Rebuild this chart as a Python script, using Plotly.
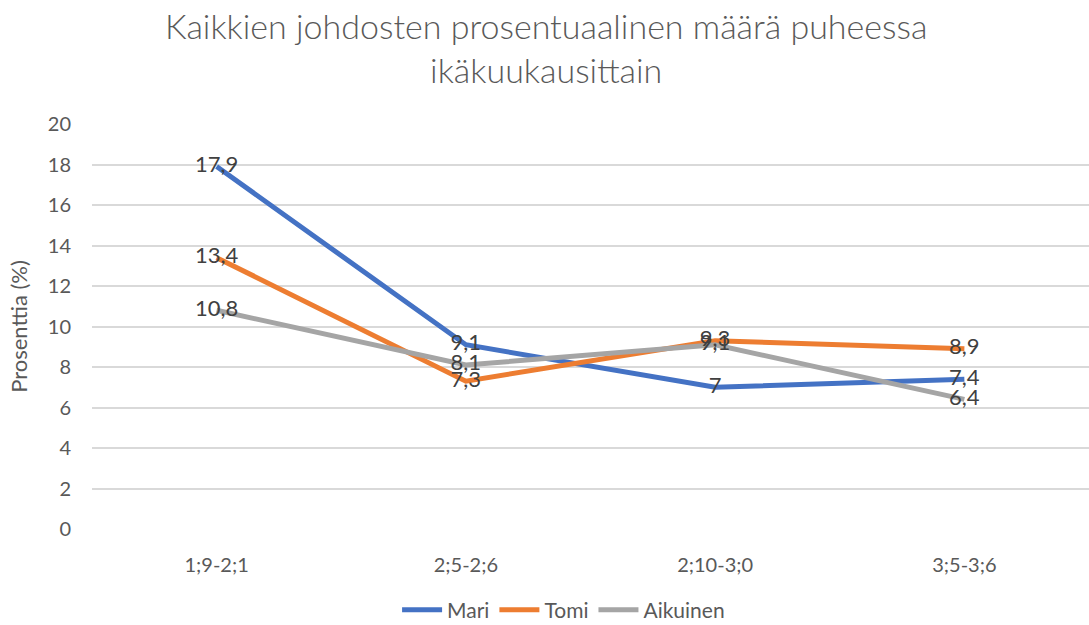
import plotly.graph_objects as go

ikakaudet = ['1;9-2;1', '2;5-2;6', '2;10-3;0', '3;5-3;6']
mari = [17.9, 9.1, 7.0, 7.4]
tomi = [13.4, 7.3, 9.3, 8.9]
aikuinen = [10.8, 8.1, 9.1, 6.4]

sarjat = [
    ('Mari', mari, '#4472C4'),
    ('Tomi', tomi, '#ED7D31'),
    ('Aikuinen', aikuinen, '#A5A5A5'),
]

fnt = "Lato, 'Open Sans', sans-serif"

fig = go.Figure()
for nimi, arvot, vari in sarjat:
    fig.add_trace(go.Scatter(
        x=ikakaudet, y=arvot, name=nimi, mode='lines',
        line=dict(color=vari, width=5),
    ))
# arvot viivojen päälle kuten Excelissä
for nimi, arvot, vari in sarjat:
    fig.add_trace(go.Scatter(
        x=ikakaudet, y=arvot, mode='text', showlegend=False,
        text=[f'{v:g}'.replace('.', ',') for v in arvot],
        textposition='middle center',
        textfont=dict(size=22, color='#404040', family=fnt),
    ))

fig.add_annotation(
    text='Kaikkien johdosten prosentuaalinen määrä puheessa<br>ikäkuukausittain',
    xref='paper', yref='paper', x=0.455, y=1.3, xanchor='center', yanchor='top',
    showarrow=False, font=dict(size=34, color='#595959', family=fnt, weight=300),
)

fig.update_layout(
    width=1089, height=625,
    font=dict(family=fnt, color='#595959'),
    margin=dict(l=92, r=0, t=124, b=96, autoexpand=False),
    plot_bgcolor='white', paper_bgcolor='white',
    showlegend=True,
    legend=dict(
        orientation='h', x=0.473, xanchor='center', y=-0.2, yanchor='middle',
        font=dict(size=21, color='#595959'), itemwidth=40,
    ),
    xaxis=dict(
        type='category', range=[-0.5, 3.5], showgrid=False,
        tickfont=dict(size=20), ticks='', showline=False, zeroline=False,
        ticklabelstandoff=22,
    ),
    yaxis=dict(
        range=[0, 20], dtick=2, gridcolor='#D9D9D9', gridwidth=1.5,
        zeroline=False, showline=False,
        tickfont=dict(size=20), ticks='', ticklabelstandoff=20,
        title=dict(text='Prosenttia (%)', font=dict(size=22), standoff=14),
    ),
)

fig.write_html("out.html", config={'displayModeBar': False},
               post_script="document.body.style.margin='0';")
